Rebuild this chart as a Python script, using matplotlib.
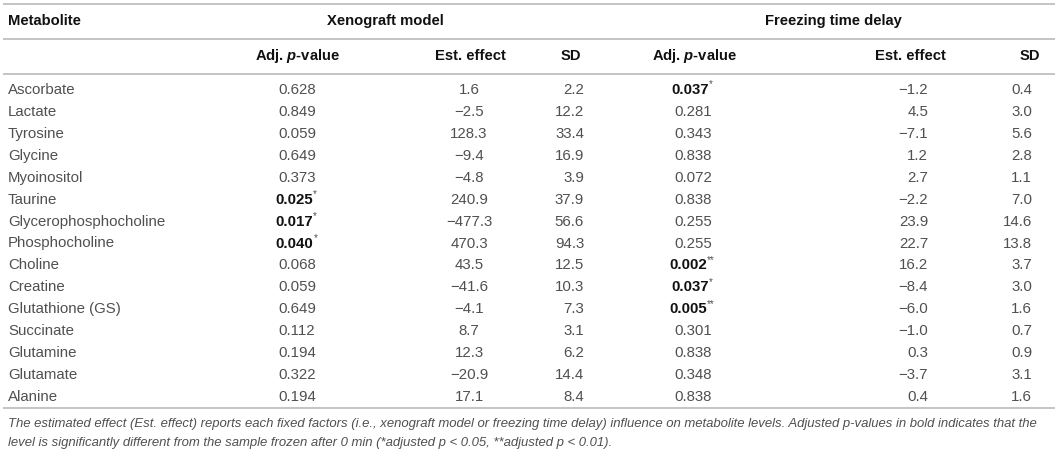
import matplotlib
matplotlib.use("Agg")
from matplotlib import pyplot as plt

plt.rcParams['font.family'] = ['Liberation Sans', 'DejaVu Sans']
plt.rcParams['mathtext.fontset'] = 'custom'
plt.rcParams['mathtext.rm'] = 'Liberation Sans:bold'
plt.rcParams['mathtext.bf'] = 'Liberation Sans:bold'
plt.rcParams['mathtext.it'] = 'Liberation Sans:bold:italic'
plt.rcParams['mathtext.bfit'] = 'Liberation Sans:bold:italic'

W, H = 1058, 458

metabolites = ["Ascorbate", "Lactate", "Tyrosine", "Glycine", "Myoinositol", "Taurine",
               "Glycerophosphocholine", "Phosphocholine", "Choline", "Creatine",
               "Glutathione (GS)", "Succinate", "Glutamine", "Glutamate", "Alanine"]

xeno_p = ["0.628", "0.849", "0.059", "0.649", "0.373", "0.025", "0.017", "0.040",
          "0.068", "0.059", "0.649", "0.112", "0.194", "0.322", "0.194"]
xeno_sig = ["", "", "", "", "", "*", "*", "*", "", "", "", "", "", "", ""]
xeno_eff = ["1.6", "\u22122.5", "128.3", "\u22129.4", "\u22124.8", "240.9", "\u2212477.3", "470.3",
            "43.5", "\u221241.6", "\u22124.1", "8.7", "12.3", "\u221220.9", "17.1"]
xeno_sd = ["2.2", "12.2", "33.4", "16.9", "3.9", "37.9", "56.6", "94.3",
           "12.5", "10.3", "7.3", "3.1", "6.2", "14.4", "8.4"]

frz_p = ["0.037", "0.281", "0.343", "0.838", "0.072", "0.838", "0.255", "0.255",
         "0.002", "0.037", "0.005", "0.301", "0.838", "0.348", "0.838"]
frz_sig = ["*", "", "", "", "", "", "", "", "**", "*", "**", "", "", "", ""]
frz_eff = ["\u22121.2", "4.5", "\u22127.1", "1.2", "2.7", "\u22122.2", "23.9", "22.7",
           "16.2", "\u22128.4", "\u22126.0", "\u22121.0", "0.3", "\u22123.7", "0.4"]
frz_sd = ["0.4", "3.0", "5.6", "2.8", "1.1", "7.0", "14.6", "13.8",
          "3.7", "3.0", "1.6", "0.7", "0.9", "3.1", "1.6"]

caption = ("The estimated effect (Est. effect) reports each fixed factors (i.e., xenograft model or freezing time delay) "
           "influence on metabolite levels. Adjusted p-values in bold indicates that the\n"
           "level is significantly different from the sample frozen after 0 min "
           "(*adjusted p < 0.05, **adjusted p < 0.01).")

fig = plt.figure(figsize=(W / 100, H / 100), dpi=100)
ax = fig.add_axes([0, 0, 1, 1])
ax.set_xlim(0, W)
ax.set_ylim(H, 0)
ax.axis("off")

line_col = "#c4c4c4"
txt_col = "#505050"
fs = 10.8

# rules
for yl in [3.5, 39, 74, 408]:
    ax.plot([3, 1055], [yl, yl], color=line_col, lw=1.4, solid_capstyle="butt")

# headers
hkw = dict(fontsize=10.6, fontweight="bold", color="#111111", va="center")
ax.text(8, 21, "Metabolite", ha="left", **hkw)
ax.text(385, 21, "Xenograft model", ha="center", **hkw)
ax.text(833, 21, "Freezing time delay", ha="center", **hkw)
ax.text(298, 56, "Adj. $p$-value", ha="center", **hkw)
ax.text(470, 56, "Est. effect", ha="center", **hkw)
ax.text(581, 56, "SD", ha="right", **hkw)
ax.text(695, 56, "Adj. $p$-value", ha="center", **hkw)
ax.text(910, 56, "Est. effect", ha="center", **hkw)
ax.text(1040, 56, "SD", ha="right", **hkw)


def pval(x, y, val, sig):
    kw = dict(fontsize=fs, va="center")
    if sig:
        shift = 2.5 * len(sig)
        t = ax.text(x - shift, y, val, ha="center", fontweight="bold", color="#111111", **kw)
        ax.annotate(sig, xy=(1, 0.55), xycoords=t, fontsize=7, color=txt_col,
                    ha="left", va="bottom")
    else:
        ax.text(x, y, val, ha="center", color=txt_col, **kw)


y0, dy = 90, (397 - 90) / 14
for i, name in enumerate(metabolites):
    y = y0 + i * dy
    kw = dict(fontsize=fs, color=txt_col, va="center")
    ax.text(8, y, name, ha="left", **kw)
    pval(297, y, xeno_p[i], xeno_sig[i])
    ax.text(469, y, xeno_eff[i], ha="center", **kw)
    ax.text(584, y, xeno_sd[i], ha="right", **kw)
    pval(693, y, frz_p[i], frz_sig[i])
    ax.text(928, y, frz_eff[i], ha="right", **kw)
    ax.text(1032, y, frz_sd[i], ha="right", **kw)

ax.text(8, 433.5, caption, ha="left", va="center", fontsize=9.44, style="italic",
        color=txt_col, linespacing=1.7)

fig.savefig("out.png", dpi=100)
